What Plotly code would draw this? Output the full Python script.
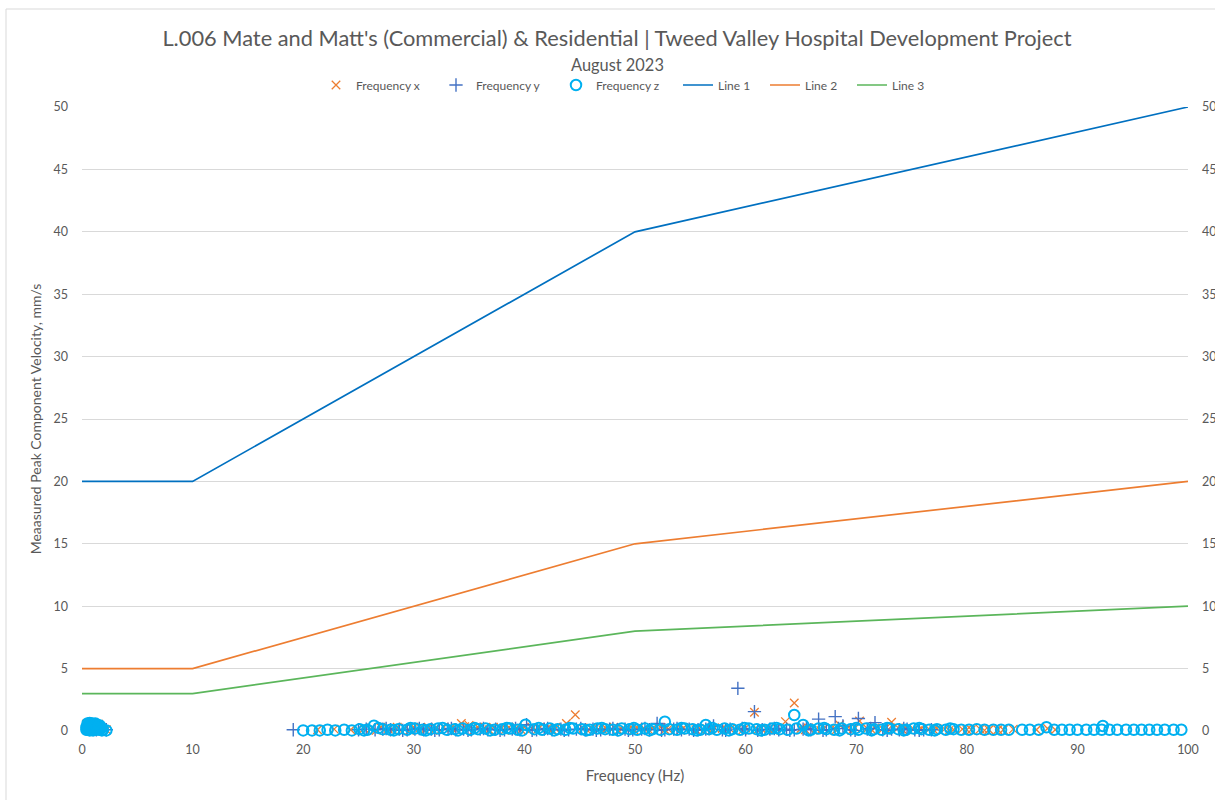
import plotly.graph_objects as go

# ---- Measured peak component velocities (mm/s) by dominant frequency (Hz) ----
freq_x = [0.4, 0.5, 0.6, 0.7, 0.8, 0.9, 1.0, 1.1, 1.2, 1.3, 1.4, 1.5, 1.6, 2.2,
          21.3, 22.8, 24.3, 25.5, 26.2, 27.0, 27.7, 28.5, 29.2, 30.0, 30.6, 31.3, 32.0,
          32.7, 33.4, 34.3, 34.6, 35.0, 35.8, 36.4, 37.2, 37.9, 38.6, 39.3, 40.0, 40.7,
          41.4, 42.1, 42.8, 43.5, 43.8, 44.6, 45.3, 46.0, 46.7, 47.4, 48.1, 48.8, 49.5,
          50.2, 50.9, 51.6, 52.3, 53.0, 53.7, 54.4, 55.1, 55.8, 56.5, 57.2, 57.9, 58.6,
          59.3, 60.0, 60.8, 61.4, 62.1, 62.8, 63.6, 64.4, 65.0, 65.7, 66.4, 67.1, 67.8,
          68.5, 69.2, 69.9, 70.3, 71.0, 71.7, 72.4, 73.2, 73.8, 74.5, 75.2, 75.9, 76.6,
          77.3, 78.0, 78.8, 79.6, 80.4, 81.2, 82.0, 82.8, 84.2, 86.3, 87.3, 88.0,
          26.6, 28.1, 29.6, 31.0, 32.4, 33.8, 35.4, 36.8, 38.2, 39.7, 41.1, 42.5, 45.7,
          47.1, 48.5, 49.9, 51.3, 52.7, 54.1, 55.5, 56.9, 58.3, 59.7, 61.1, 62.5, 65.4,
          66.8, 68.2, 69.6, 71.4, 72.8, 74.2, 75.6, 77.0, 78.4, 80.0, 81.6, 83.3]
vel_x = [0.55, 0.1, 0.6, 0.3, 0.5, 0.05, 0.6, 0.2, 0.45, 0.1, 0.35, 0.55, 0.15, 0.1,
         0.1, 0.15, 0.1, 0.2, 0.25, 0.3, 0.15, 0.3, 0.2, 0.3, 0.25, 0.3, 0.2,
         0.3, 0.25, 0.6, 0.35, 0.45, 0.3, 0.25, 0.3, 0.2, 0.3, 0.25, 0.3, 0.2,
         0.3, 0.25, 0.2, 0.3, 0.6, 1.3, 0.2, 0.25, 0.15, 0.2, 0.3, 0.15, 0.2,
         0.25, 0.15, 0.2, 0.3, 0.15, 0.2, 0.25, 0.15, 0.2, 0.15, 0.25, 0.2, 0.15,
         0.2, 0.25, 1.5, 0.2, 0.15, 0.25, 0.75, 2.25, 0.2, 0.25, 0.15, 0.2, 0.25,
         0.5, 0.2, 0.25, 0.8, 0.2, 0.25, 0.15, 0.7, 0.25, 0.2, 0.15, 0.2, 0.15,
         0.2, 0.15, 0.1, 0.15, 0.1, 0.15, 0.1, 0.1, 0.15, 0.1, 0.2, 0.1,
         0.05, 0.1, 0.05, 0.1, 0.05, 0.1, 0.05, 0.1, 0.05, 0.1, 0.05, 0.1, 0.05,
         0.1, 0.05, 0.1, 0.05, 0.1, 0.05, 0.1, 0.05, 0.1, 0.05, 0.1, 0.05, 0.1,
         0.05, 0.1, 0.05, 0.1, 0.05, 0.1, 0.05, 0.1, 0.05, 0.1, 0.05, 0.1]

freq_y = [0.5, 0.7, 0.9, 1.1, 1.3, 1.5, 2.2,
          19.1, 25.0, 25.7, 26.5, 27.2, 27.9, 28.7, 29.4, 30.1, 30.9, 31.6, 32.3, 33.1,
          33.8, 34.5, 35.2, 36.0, 36.7, 37.4, 38.2, 38.9, 39.6, 40.2, 41.1, 41.8, 42.5,
          43.3, 44.0, 44.7, 45.5, 46.2, 46.9, 47.7, 48.4, 49.1, 49.8, 50.6, 51.3, 52.0,
          52.7, 53.5, 54.2, 54.9, 55.7, 56.4, 57.1, 57.9, 58.6, 59.3, 60.0, 60.8, 61.5,
          62.2, 63.0, 63.7, 64.4, 65.2, 65.9, 66.6, 67.3, 68.1, 68.8, 69.5, 70.2, 71.0,
          71.7, 72.4, 73.2, 73.9, 74.6, 75.3, 76.1, 76.8,
          27.5, 29.0, 30.5, 31.9, 33.4, 34.9, 36.3, 37.8, 39.2, 40.7, 42.1, 43.6, 45.1,
          46.5, 48.0, 49.4, 50.9, 52.4, 53.8, 55.3, 56.7, 58.2, 59.7, 61.1, 62.6, 64.0,
          65.5, 67.0, 68.4, 69.9, 71.3, 72.8, 74.3, 75.7]
vel_y = [0.2, 0.4, 0.15, 0.3, 0.1, 0.2, 0.1,
         0.1, 0.1, 0.15, 0.1, 0.15, 0.1, 0.15, 0.1, 0.15, 0.1, 0.15, 0.1, 0.15,
         0.1, 0.15, 0.1, 0.15, 0.1, 0.15, 0.1, 0.15, 0.1, 0.5, 0.1, 0.15, 0.1,
         0.15, 0.1, 0.15, 0.1, 0.15, 0.1, 0.15, 0.1, 0.15, 0.1, 0.15, 0.1, 0.6,
         0.1, 0.15, 0.1, 0.15, 0.1, 0.15, 0.4, 0.1, 0.15, 3.42, 0.1, 1.55, 0.1,
         0.15, 0.1, 0.15, 0.1, 0.15, 0.1, 0.95, 0.1, 1.15, 0.4, 0.1, 1.0, 0.15,
         0.67, 0.1, 0.15, 0.1, 0.15, 0.1, 0.1, 0.1,
         0.2, 0.05, 0.2, 0.05, 0.2, 0.05, 0.2, 0.05, 0.2, 0.05, 0.2, 0.05, 0.2,
         0.05, 0.2, 0.05, 0.2, 0.05, 0.2, 0.05, 0.2, 0.05, 0.2, 0.05, 0.2, 0.05,
         0.2, 0.05, 0.2, 0.05, 0.2, 0.05, 0.2, 0.05]

freq_z = [0.4, 0.5, 0.5, 0.6, 0.6, 0.7, 0.7, 0.8, 0.8, 0.9, 0.9, 1.0, 1.0, 1.1, 1.1,
          1.2, 1.3, 1.3, 1.4, 1.5, 1.6, 1.7, 1.8, 2.2,
          0.4, 0.6, 0.8, 1.0, 1.2, 1.4, 1.5, 1.6, 1.7, 1.9,
          20.0, 20.8, 21.5, 22.2, 22.9, 23.7, 24.4, 25.1, 25.8, 26.4, 27.2, 27.9, 28.6,
          29.4, 30.1, 30.8, 31.5, 32.2, 33.0, 33.7, 34.4, 35.1, 35.8, 36.5, 37.3, 38.0,
          38.7, 39.4, 40.1, 40.9, 41.6, 42.3, 43.0, 43.7, 44.4, 45.2, 45.9, 46.6, 47.3,
          48.0, 48.8, 49.5, 50.2, 50.9, 51.6, 52.3, 52.7, 53.1, 53.8, 54.5, 55.2, 55.9,
          56.4, 56.7, 57.4, 58.1, 58.8, 59.5, 60.3, 61.0, 61.7, 62.4, 63.1, 63.8, 64.4,
          64.6, 65.2, 65.9, 66.6, 67.3, 68.0, 68.7, 69.5, 70.2, 70.9, 71.6, 72.3, 73.0,
          73.8, 74.5, 75.2, 75.9, 76.6, 77.3, 78.1, 78.8, 79.5, 80.2, 80.9, 81.6, 82.4,
          83.1, 83.8, 85.0, 85.7, 86.5, 87.2, 87.9, 88.6, 89.3, 90.0, 90.8, 91.5, 92.2,
          92.3, 92.9, 93.6, 94.4, 95.1, 95.8, 96.5, 97.2, 97.9, 98.7, 99.4,
          25.5, 26.8, 28.2, 29.7, 31.1, 32.6, 34.0, 35.5, 36.9, 38.4, 39.8, 41.3, 42.7,
          44.1, 45.6, 47.0, 48.5, 49.9, 51.3, 54.2, 55.6, 57.0, 58.5, 59.9, 61.4, 62.8,
          65.7, 67.1, 68.5, 70.0, 71.4, 72.8, 74.3, 75.7, 77.1, 78.5]
vel_z = [0.3, 0.6, 0.1, 0.45, 0.2, 0.65, 0.05, 0.35, 0.55, 0.15, 0.6, 0.4, 0.05, 0.25, 0.5,
         0.1, 0.35, 0.5, 0.2, 0.45, 0.1, 0.3, 0.05, 0.05,
         0.1, 0.3, 0.1, 0.2, 0.6, 0.15, 0.3, 0.45, 0.2, 0.1,
         0.05, 0.05, 0.05, 0.1, 0.05, 0.1, 0.05, 0.15, 0.1, 0.43, 0.15, 0.1, 0.15,
         0.1, 0.2, 0.1, 0.15, 0.2, 0.1, 0.15, 0.2, 0.1, 0.15, 0.2, 0.1, 0.15,
         0.2, 0.1, 0.5, 0.15, 0.1, 0.2, 0.15, 0.1, 0.2, 0.15, 0.1, 0.2, 0.15,
         0.1, 0.2, 0.15, 0.1, 0.2, 0.15, 0.1, 0.75, 0.15, 0.1, 0.2, 0.15, 0.1,
         0.48, 0.15, 0.1, 0.2, 0.15, 0.1, 0.2, 0.15, 0.1, 0.2, 0.15, 0.1, 1.28,
         0.2, 0.48, 0.1, 0.2, 0.15, 0.1, 0.2, 0.15, 0.1, 0.2, 0.15, 0.1, 0.2,
         0.15, 0.1, 0.2, 0.15, 0.1, 0.15, 0.1, 0.15, 0.1, 0.1, 0.15, 0.1, 0.1,
         0.1, 0.1, 0.1, 0.1, 0.1, 0.3, 0.1, 0.1, 0.1, 0.1, 0.1, 0.1, 0.1,
         0.4, 0.1, 0.1, 0.1, 0.1, 0.1, 0.1, 0.1, 0.1, 0.1, 0.1,
         0.05, 0.25, 0.05, 0.25, 0.05, 0.25, 0.05, 0.25, 0.05, 0.25, 0.05, 0.25, 0.05,
         0.25, 0.05, 0.25, 0.05, 0.25, 0.05, 0.25, 0.05, 0.25, 0.05, 0.25, 0.05, 0.25,
         0.05, 0.25, 0.05, 0.25, 0.05, 0.25, 0.05, 0.25, 0.05, 0.2]

# ---- Guideline limit curves ----
line_freq = [0, 10, 50, 100]
line1_vel = [20, 20, 40, 50]
line2_vel = [5, 5, 15, 20]
line3_vel = [3, 3, 8, 10]

y_ticks = [0, 5, 10, 15, 20, 25, 30, 35, 40, 45, 50]
x_ticks = [0, 10, 20, 30, 40, 50, 60, 70, 80, 90, 100]

TEXT = "#595959"
GRID = "#D9D9D9"
FONT = "Lato"

fig = go.Figure()

fig.add_trace(go.Scatter(
    x=freq_x, y=vel_x, mode="markers", name="Frequency x", cliponaxis=False,
    marker=dict(symbol="x-thin", size=8.5, color="#ED7D31",
                line=dict(width=1.3, color="#ED7D31")),
    legend="legend"))
fig.add_trace(go.Scatter(
    x=freq_y, y=vel_y, mode="markers", name="Frequency y", cliponaxis=False,
    marker=dict(symbol="cross-thin", size=9.5, color="#4472C4",
                line=dict(width=1.4, color="#4472C4")),
    legend="legend"))
fig.add_trace(go.Scatter(
    x=freq_z, y=vel_z, mode="markers", name="Frequency z", cliponaxis=False,
    marker=dict(symbol="circle-open", size=10.5, color="#00B0F0",
                line=dict(width=2, color="#00B0F0")),
    legend="legend"))

for name, vals, col in [("Line 1", line1_vel, "#0070C0"),
                        ("Line 2", line2_vel, "#ED7D31"),
                        ("Line 3", line3_vel, "#5BB65B")]:
    fig.add_trace(go.Scatter(x=line_freq, y=vals, mode="lines", name=name,
                             line=dict(color=col, width=1.7), legend="legend2"))

# invisible trace carrying the mirrored right-hand axis
fig.add_trace(go.Scatter(x=[0, 100], y=[0, 50], yaxis="y2", mode="markers",
                         marker=dict(opacity=0), showlegend=False, hoverinfo="skip"))

legend_common = dict(orientation="h", xref="container", yref="container",
                     yanchor="middle", y=1 - 85 / 800, bgcolor="rgba(0,0,0,0)",
                     font=dict(family=FONT, size=12, color=TEXT),
                     entrywidthmode="pixels", itemsizing="trace")

fig.update_layout(
    width=1215, height=800,
    margin=dict(l=82, r=27, t=107, b=69, autoexpand=False),
    paper_bgcolor="white", plot_bgcolor="white",
    font=dict(family=FONT, color=TEXT),
    title=dict(
        text="L.006 Mate and Matt's (Commercial) & Residential | Tweed Valley Hospital Development Project",
        x=617 / 1215, xanchor="center", xref="container",
        y=1 - 38 / 800, yanchor="middle", yref="container",
        font=dict(family=FONT, size=21.8, color=TEXT)),
    legend=dict(**legend_common, x=316 / 1215, xanchor="left", entrywidth=75),
    legend2=dict(**legend_common, x=678 / 1215, xanchor="left", entrywidth=42),
    xaxis=dict(range=[0, 100], tickvals=x_ticks, showgrid=False, zeroline=False,
               showline=False, ticks="", ticklabelstandoff=9, automargin=False,
               tickfont=dict(family=FONT, size=12.5, color=TEXT),
               title=dict(text="Frequency (Hz)", standoff=14,
                          font=dict(family=FONT, size=15, color=TEXT))),
    yaxis=dict(range=[0, 50], tickvals=y_ticks, showgrid=True, gridcolor=GRID,
               gridwidth=1, zeroline=False, showline=False, ticks="",
               ticklabelstandoff=13, automargin=False,
               tickfont=dict(family=FONT, size=12.5, color=TEXT),
               title=dict(text="Meaasured Peak Component Velocity, mm/s", standoff=8,
                          font=dict(family=FONT, size=14, color=TEXT))),
    yaxis2=dict(range=[0, 50], tickvals=y_ticks, overlaying="y", side="right",
                showgrid=False, zeroline=False, showline=False, ticks="",
                ticklabelstandoff=13, automargin=False,
                tickfont=dict(family=FONT, size=12.5, color=TEXT)),
    annotations=[dict(text="August 2023", xref="paper", yref="paper",
                      x=(617 - 82) / 1106, y=(731 - 64) / 624,
                      xanchor="center", yanchor="middle", showarrow=False,
                      font=dict(family=FONT, size=16.4, color=TEXT))],
    shapes=[dict(type="rect", xref="paper", yref="paper",
                 x0=(6 - 82) / 1106, x1=1.1, y0=-0.2, y1=(731 - 9) / 624,
                 line=dict(color=GRID, width=1), fillcolor="rgba(0,0,0,0)",
                 layer="below")],
)

fig.write_html("out.html")
